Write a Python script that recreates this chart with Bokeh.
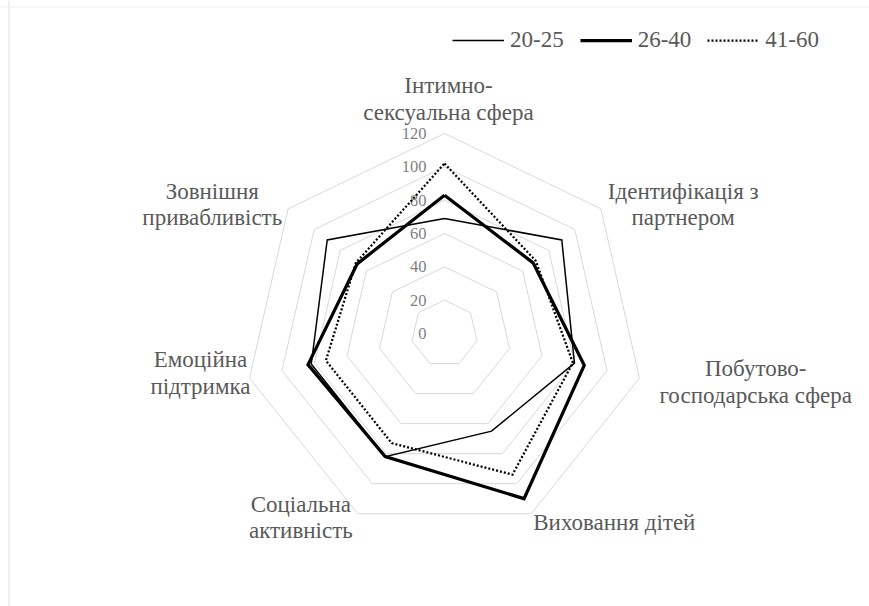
import numpy as np
from bokeh.plotting import figure
from bokeh.models import Range1d, Legend, LegendItem, Span
from bokeh.embed import file_html
from bokeh.resources import INLINE
from bokeh.core.properties import value

# ---------------- data ----------------
categories = [
    "Інтимно-\nсексуальна сфера",
    "Ідентифікація з\nпартнером",
    "Побутово-\nгосподарська сфера",
    "Виховання дітей",
    "Соціальна\nактивність",
    "Емоційна\nпідтримка",
    "Зовнішня\nпривабливість",
]
series_names = ["20-25", "26-40", "41-60"]
values_20_25 = [69, 90, 80, 65, 82, 82, 90]
values_26_40 = [83, 68, 86, 110, 82, 84, 67]
values_41_60 = [102, 70, 79, 94, 73, 73, 68]
tick_values = [0, 20, 40, 60, 80, 100, 120]

# ---------------- layout ----------------
W, H = 869, 606
R_MAX_PX = 200.0
V_MAX = tick_values[-1]
SCALE = R_MAX_PX / V_MAX
FONT = "Liberation Serif"

p = figure(width=W, height=H, output_backend="svg", toolbar_location=None,
           x_range=Range1d(-444, 425), y_range=Range1d(-273, 333),
           min_border=0)
p.axis.visible = False
p.grid.visible = False
p.outline_line_color = None
p.background_fill_color = "white"
p.border_fill_color = "white"

# faint chart-area border (left and top edges)
p.add_layout(Span(location=-435.5, dimension="height", line_color="#d5def0", line_width=1))
p.add_layout(Span(location=326.5, dimension="width", line_color="#f0f0f0", line_width=1))

n = len(categories)
ang = np.arange(n) * 2 * np.pi / n
sx, sy = np.sin(ang), np.cos(ang)

def closed(vals):
    v = np.asarray(vals, dtype=float) * SCALE
    x = v * sx
    y = v * sy
    return np.append(x, x[0]), np.append(y, y[0])

# grid rings
for t in tick_values[1:]:
    x, y = closed([t] * n)
    p.line(x, y, line_color="#d9d9d9", line_width=1)

# tick labels
p.text(x=[0] * len(tick_values), y=[t * SCALE for t in tick_values],
       text=[str(t) for t in tick_values], text_align="right",
       text_baseline="middle", x_offset=-18, text_font=value(FONT),
       text_font_size="16.5px", text_color="#7f7f7f")

# category labels: (anchor, dx px right, dy px up) relative to outer ring vertex
label_style = [
    ("bottom_center", 4, 9),
    ("center_left", 7, 4),
    ("center_left", 20, -4),
    ("center_left", 2, -9),
    ("center_right", -5, -4),
    ("center_right", 1, 5),
    ("center_right", -6, 4),
]
for i, cat in enumerate(categories):
    anc, dx, dy = label_style[i]
    p.text(x=[R_MAX_PX * sx[i]], y=[R_MAX_PX * sy[i]], text=[cat],
           anchor=anc, text_align="center", x_offset=dx, y_offset=-dy,
           text_font=value(FONT), text_font_size="23px",
           text_color="#595959", text_line_height=1.05)

# series
styles = [
    dict(line_width=1.5, line_dash="solid"),
    dict(line_width=3.25, line_dash="solid"),
    dict(line_width=2.25, line_dash="2 2"),
]
renderers = []
for vals, st in zip([values_20_25, values_26_40, values_41_60], styles):
    x, y = closed(vals)
    r = p.line(x, y, line_color="black", line_join="miter", **st)
    renderers.append(r)

legend = Legend(items=[LegendItem(label=nm, renderers=[r]) for nm, r in zip(series_names, renderers)],
                orientation="horizontal", location=(452, 553),
                glyph_width=52, glyph_height=20, label_standoff=6, spacing=16,
                padding=0, margin=0, border_line_color=None,
                background_fill_alpha=0, label_text_font=FONT,
                label_text_font_size="23px", label_text_color="#595959")
p.add_layout(legend)

open("out.html", "w").write(file_html(p, INLINE))
